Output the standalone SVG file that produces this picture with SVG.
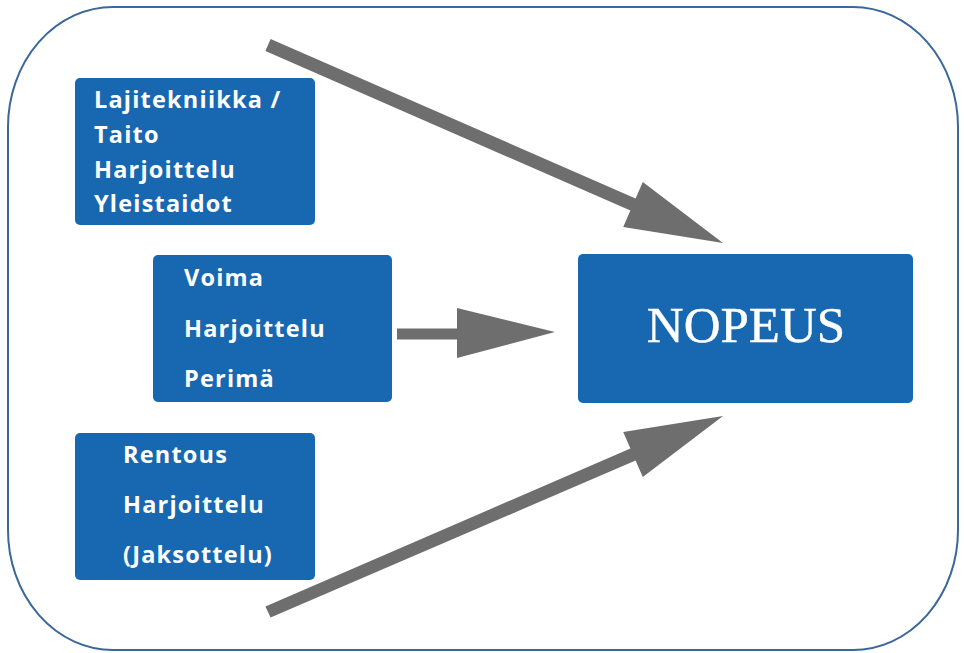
<svg xmlns="http://www.w3.org/2000/svg" width="964" height="653" viewBox="0 0 964 653">
<style>
.box{fill:#1767b1;}
.lbl{font-family:"Open Sans","Liberation Sans",sans-serif;font-weight:bold;font-size:23.5px;fill:#ffffff;letter-spacing:1.2px;}
.big{font-family:"Liberation Serif","Times New Roman",serif;font-size:51px;fill:#ffffff;stroke:#ffffff;stroke-width:0.4px;}
.arrow{fill:#6e6e6e;}
</style>
<rect x="0" y="0" width="964" height="653" fill="#ffffff"/>
<rect id="frame" x="8" y="7" width="950" height="643" rx="105" ry="120" fill="none" stroke="#3a6898" stroke-width="2"/>
<g id="connectors">
<polygon class="arrow" points="270.6,39 635.6,198.5 642.8,181.9 723,243 623.2,227.1 630.4,210.5 265.4,51"/>
<polygon class="arrow" points="397,328.5 457,328.5 457,308 555,332 457,358 457,339.5 397,339.5"/>
<polygon class="arrow" points="270.6,617.5 635.6,460.5 642.8,477 723,416 623.2,432 630.4,448.5 265.4,606.5"/>
</g>
<g id="node-taito">
<rect class="box" x="75" y="78" width="240" height="147" rx="5"/>
<text class="lbl" x="94" y="108">Lajitekniikka /</text>
<text class="lbl" x="94" y="143">Taito</text>
<text class="lbl" x="94" y="178">Harjoittelu</text>
<text class="lbl" x="94" y="212">Yleistaidot</text>
</g>
<g id="node-voima">
<rect class="box" x="153" y="255" width="239" height="147" rx="5"/>
<text class="lbl" x="184" y="286">Voima</text>
<text class="lbl" x="184" y="337">Harjoittelu</text>
<text class="lbl" x="184" y="387">Perimä</text>
</g>
<g id="node-rentous">
<rect class="box" x="75" y="433" width="240" height="147" rx="5"/>
<text class="lbl" x="123" y="463">Rentous</text>
<text class="lbl" x="123" y="513">Harjoittelu</text>
<text class="lbl" x="123" y="563">(Jaksottelu)</text>
</g>
<g id="node-nopeus">
<rect class="box" x="578" y="254" width="335" height="149" rx="5"/>
<text class="big" x="746" y="342" text-anchor="middle">NOPEUS</text>
</g>
</svg>
